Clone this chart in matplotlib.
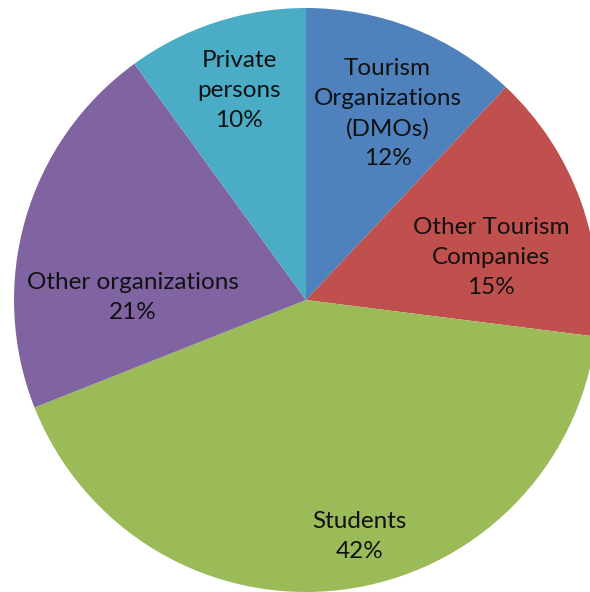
import numpy as np
import matplotlib
matplotlib.use("Agg")
import matplotlib.pyplot as plt

# Datos del grafico (sentido horario desde arriba)
labels = ["Tourism\nOrganizations\n(DMOs)", "Other Tourism\nCompanies", "Students",
          "Other organizations", "Private\npersons"]
values = [12, 15, 42, 21, 10]
colors = ["#4F81BD", "#C0504D", "#9BBB59", "#8064A2", "#4BACC6"]

# Posicion de las etiquetas (radio relativo, angulo en grados)
label_r = [0.697, 0.651, 0.829, 0.594, 0.753]
label_ang = [66.4, 12.8, -77.2, 179.3, 107.7]

plt.rcParams['font.family'] = ['Lato', 'DejaVu Sans']

fig = plt.figure(figsize=(5.9, 5.92), dpi=100)
ax = fig.add_axes([0, 0, 1, 1])

ax.pie(values, colors=colors, startangle=90, counterclock=False,
       radius=1, center=(0, 0), wedgeprops=dict(linewidth=0))

for lab, v, r, a in zip(labels, values, label_r, label_ang):
    t = np.deg2rad(a)
    ax.text(r*np.cos(t), r*np.sin(t), f"{lab}\n{v}%", ha='center', va='center',
            fontsize=17.5, color='#111111', linespacing=1.53)

# Centro en (306, 300) px, radio 292 px
ax.set_xlim(-306/292, (590-306)/292)
ax.set_ylim(-(592-300)/292, 300/292)
ax.set_aspect('auto')
ax.axis('off')

fig.savefig("out.png", dpi=100)
